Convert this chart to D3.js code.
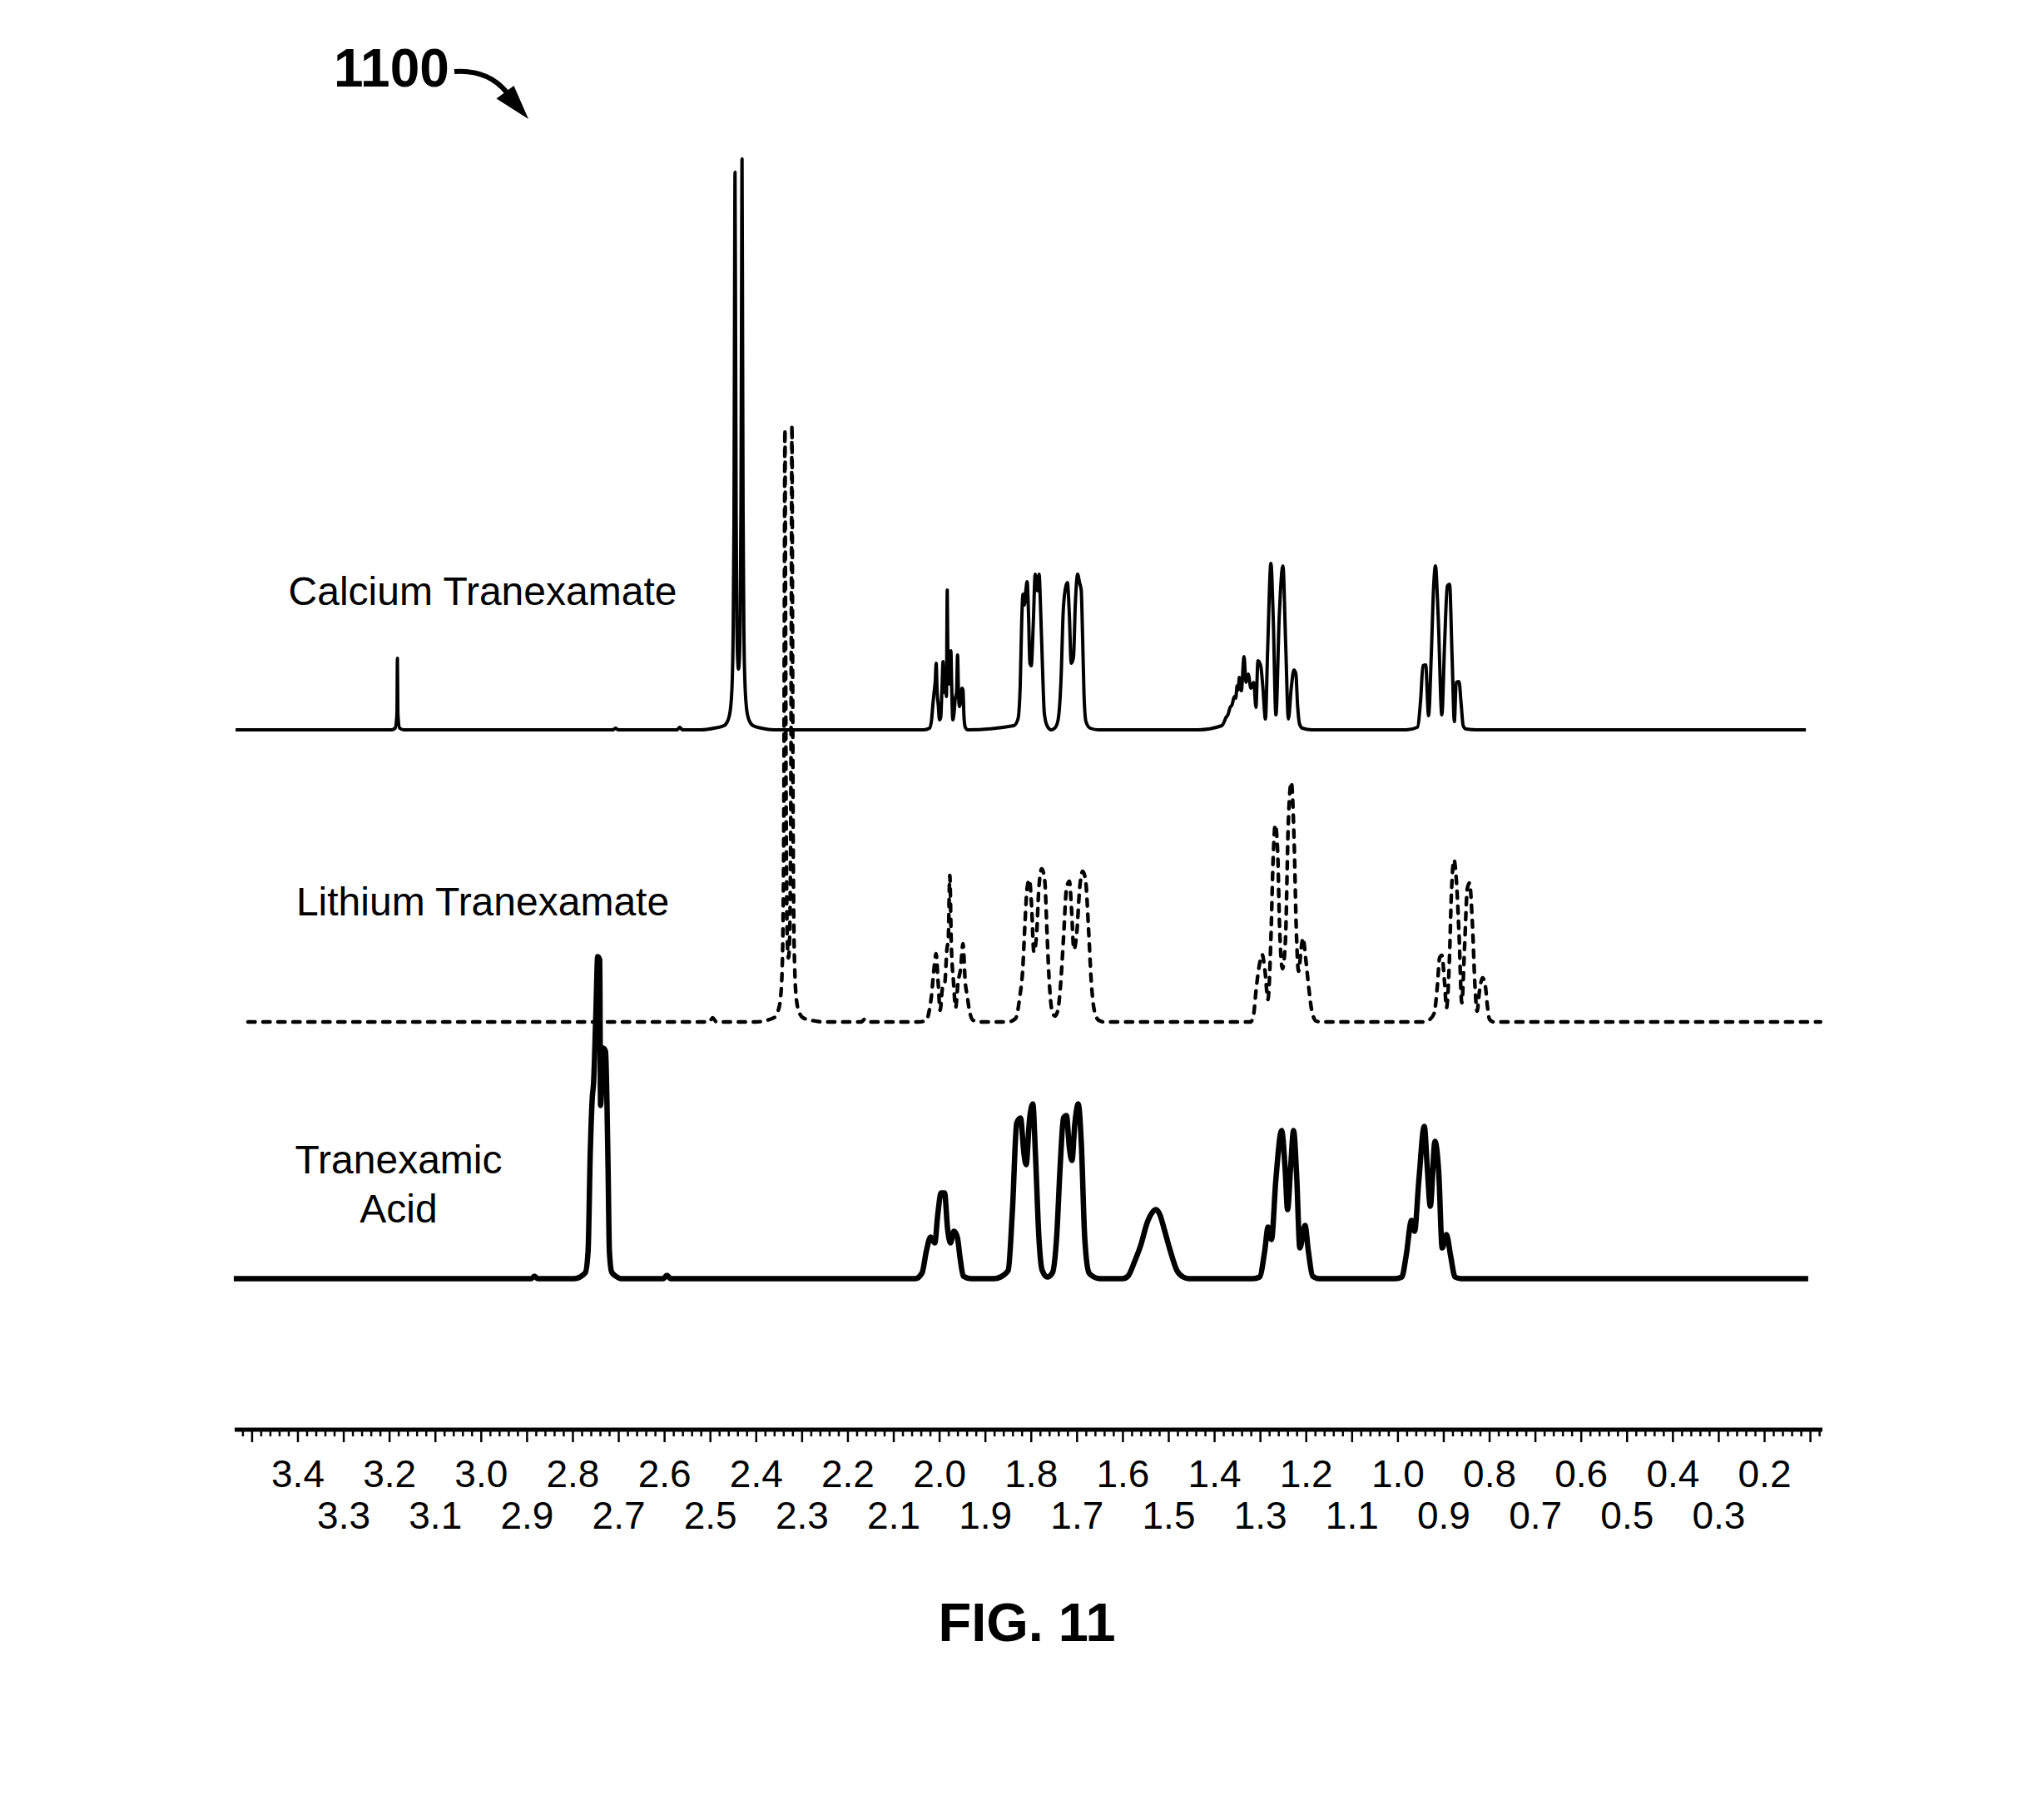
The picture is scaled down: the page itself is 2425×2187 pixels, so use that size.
<!DOCTYPE html>
<html>
<head>
<meta charset="utf-8">
<script src="https://cdn.jsdelivr.net/npm/d3@7"></script>
<style>
  html, body { margin: 0; padding: 0; background: #fff; }
  svg { display: block; }
  text { font-family: "Liberation Sans", Arial, sans-serif; fill: #000; }
</style>
</head>
<body>
<div id="chart"></div>
<script>
// ---------------- DATA ----------------
const figureNumber = "1100";
const figureCaption = "FIG. 11";
const seriesNames = ["Calcium Tranexamate", "Lithium Tranexamate", "Tranexamic Acid"];

// tick labels (ppm), two staggered rows
const upperRowLabels = [3.4, 3.2, 3.0, 2.8, 2.6, 2.4, 2.2, 2.0, 1.8, 1.6, 1.4, 1.2, 1.0, 0.8, 0.6, 0.4, 0.2];
const lowerRowLabels = [3.3, 3.1, 2.9, 2.7, 2.5, 2.3, 2.1, 1.9, 1.7, 1.5, 1.3, 1.1, 0.9, 0.7, 0.5, 0.3];
const axisExtent = [3.537, 0.073];

// spectra: [chemical shift (ppm), intensity (a.u.)]
const calciumSpectrum = [
  [3.535,0],[3.195,0],[3.187,2],[3.1830,20],[3.1820,86],[3.1810,20],[3.177,2],[3.168,0],
  [2.712,0],[2.706,2],[2.700,0],[2.572,0],[2.566,3],[2.560,0],
  [2.520,0],[2.4910,2],[2.4695,5],[2.4605,12],[2.4550,27],[2.4514,61],[2.4496,112],[2.4477,256],[2.4467,458],
  [2.4454,670],[2.4441,461],[2.4430,262],[2.4414,132],[2.4396,84],[2.4378,73],[2.4359,85],[2.4341,135],
  [2.4325,268],[2.4314,471],[2.4301,686],[2.4289,468],[2.4278,262],[2.4260,115],[2.4241,62],[2.4205,27],
  [2.4151,12],[2.4060,5],[2.3878,2],[2.3606,0],
  [2.0338,0],[2.0211,2],[2.0166,12],[2.0138,30],[2.0111,45],[2.0084,60],[2.0066,80],[2.0044,45],[2.0020,30],
  [1.9993,12],[1.9966,15],[1.9939,50],[1.9915,82],[1.9893,45],[1.9866,60],[1.9842,40],[1.9824,168],[1.9806,60],
  [1.9784,55],[1.9763,70],[1.9745,95],[1.9726,50],[1.9703,12],[1.9676,20],[1.9648,38],[1.9621,45],[1.9599,90],
  [1.9579,45],[1.9558,28],[1.9530,35],[1.9503,50],[1.9481,48],[1.9458,15],[1.9430,3],[1.9376,0],
  [1.8372,5],[1.8281,13],[1.8232,53],[1.8201,127],[1.8172,163],[1.8141,150],[1.8110,167],[1.8081,178],[1.8051,140],
  [1.8020,80],[1.7991,77],[1.7947,127],[1.7905,187],[1.7856,167],[1.7820,187],[1.7784,140],[1.7747,77],[1.7706,20],
  [1.7646,5],[1.7555,0],[1.7464,3],[1.7402,13],[1.7342,60],[1.7293,143],[1.7252,168],[1.7203,177],[1.7161,140],
  [1.7119,80],[1.7070,87],[1.7028,153],[1.6979,187],[1.6938,177],[1.6901,168],[1.6870,110],[1.6840,43],[1.6798,10],
  [1.6707,2],[1.6526,0],
  [1.4347,0],[1.3833,5],[1.3780,10],[1.3742,15],[1.3700,18],[1.3652,27],[1.3610,30],[1.3561,40],[1.3530,38],[1.3499,53],
  [1.3475,48],[1.3452,63],[1.3408,47],[1.3348,88],
  [1.3307,57],[1.3258,67],[1.3198,50],[1.3136,57],[1.3089,27],[1.3045,83],[1.2985,77],[1.2936,50],[1.2882,13],
  [1.2835,93],[1.2762,200],[1.2713,137],[1.2653,18],[1.2580,137],[1.2500,197],[1.2440,103],[1.2381,13],[1.2319,50],
  [1.2259,72],[1.2217,67],[1.2181,30],[1.2137,7],[1.2077,2],[1.1865,0],
  [0.9808,0],[0.9567,3],[0.9494,37],[0.9445,77],[0.9385,78],[0.9323,17],[0.9263,90],[0.9214,170],[0.9173,197],
  [0.9113,137],[0.9033,18],[0.8973,103],[0.8913,173],[0.8864,175],[0.8809,87],[0.8760,10],[0.8719,57],[0.8659,58],
  [0.8610,30],[0.8568,5],[0.8506,1],[0.8265,0],[0.109,0]
];

const lithiumSpectrum = [
  [3.508,0],[2.502,0],[2.494,5],[2.486,0],[2.400,0],
  [2.3606,5],[2.3516,13],[2.3461,29],[2.3425,65],[2.3407,119],[2.3388,272],[2.3378,487],[2.3365,712],[2.3352,490],
  [2.3341,278],[2.3325,140],[2.3307,89],[2.3289,77],[2.3270,89],[2.3252,141],[2.3236,280],[2.3225,492],[2.3212,717],
  [2.3200,489],[2.3189,274],[2.3171,120],[2.3152,65],[2.3116,28],[2.3062,13],[2.2971,5],[2.2789,2],[2.2517,0],
  [2.170,0],[2.163,3],[2.156,0],
  [2.045,0],[2.0278,2],[2.0215,14],[2.0169,31],[2.0118,61],[2.0068,82],[2.0022,47],[1.9979,14],[1.9928,41],[1.9877,47],
  [1.9832,87],[1.9801,100],[1.9768,176],[1.9737,97],[1.9686,47],[1.9641,17],[1.9590,47],[1.9532,64],[1.9481,94],
  [1.9430,47],[1.9387,31],[1.9341,14],[1.9260,2],[1.9100,0],
  [1.850,0],[1.8336,4],[1.8239,31],[1.8176,64],[1.8132,114],[1.8081,161],[1.8031,171],[1.7985,141],[1.7934,84],
  [1.7876,104],[1.7825,161],[1.7762,184],[1.7698,171],[1.7647,107],[1.7604,54],[1.7540,14],[1.7475,7],[1.7411,14],
  [1.7348,47],[1.7284,104],[1.7221,161],[1.7157,169],[1.7114,137],[1.7061,87],[1.6998,107],[1.6934,161],[1.6870,181],
  [1.6807,171],[1.6743,114],[1.6680,47],[1.6616,14],[1.6520,2],[1.640,0],
  [1.3208,0],[1.3145,7],[1.3081,41],[1.3018,67],[1.2954,81],[1.2891,61],[1.2827,27],[1.2764,97],[1.2713,197],
  [1.2667,237],[1.2617,207],[1.2573,114],[1.2510,64],[1.2446,97],[1.2382,240],[1.2317,288],[1.2254,214],[1.2210,114],
  [1.2159,61],[1.2096,91],[1.2063,101],[1.1999,74],[1.1936,41],[1.1872,14],[1.1776,1],[1.165,0],
  [0.945,0],[0.9323,2],[0.9203,10],[0.9131,43],[0.9082,77],[0.9033,80],[0.8973,47],[0.8931,17],[0.8869,73],
  [0.8822,157],[0.8768,195],[0.8719,173],[0.8659,107],[0.8597,23],[0.8537,90],[0.8477,160],[0.8428,167],[0.8368,120],
  [0.8307,40],[0.8265,13],[0.8205,40],[0.8143,53],[0.8083,43],[0.8041,20],[0.7992,3],[0.7902,0],[0.077,0]
];

const tranexamicSpectrum = [
  [3.539,0],[2.890,0],[2.883,3],[2.876,0],
  [2.7963,0],[2.7722,7],[2.7660,33],[2.7613,150],[2.7569,217],[2.7540,235],[2.7491,317],[2.7450,387],[2.7406,383],
  [2.7388,208],[2.7328,277],[2.7279,273],[2.7250,217],[2.7224,133],[2.7195,33],[2.7146,8],[2.7056,3],[2.6934,0],
  [2.602,0],[2.594,4],[2.586,0],
  [2.0520,0],[2.0373,7],[2.0280,33],[2.0188,50],[2.0095,43],[2.0031,77],[1.9957,103],[1.9882,103],[1.9817,60],
  [1.9754,43],[1.9679,57],[1.9605,50],[1.9539,23],[1.9474,3],[1.9309,0],
  [1.880,0],[1.8661,2],[1.8494,10],[1.8401,83],[1.8308,187],[1.8225,193],[1.8150,150],[1.8103,137],[1.8031,190],
  [1.7956,210],[1.7900,150],[1.7825,50],[1.7753,10],[1.7640,2],[1.7529,7],[1.7437,50],[1.7362,133],[1.7288,193],
  [1.7224,196],[1.7159,157],[1.7103,142],[1.7039,187],[1.6965,210],[1.6899,163],[1.6825,50],[1.6732,7],[1.6622,2],[1.650,0],
  [1.600,0],[1.5881,3],[1.5741,20],[1.5603,40],[1.5463,67],[1.5344,80],[1.5269,83],[1.5186,77],[1.5093,60],
  [1.4955,33],[1.4815,10],[1.4677,2],[1.455,0],
  [1.315,0],[1.3009,2],[1.2898,33],[1.2824,62],[1.2749,47],[1.2657,117],[1.2528,178],[1.2453,133],[1.2399,83],
  [1.2333,133],[1.2268,178],[1.2203,127],[1.2130,37],[1.2018,64],[1.1945,33],[1.1852,3],[1.1714,0],
  [1.005,0],[0.9906,2],[0.9813,27],[0.9694,70],[0.9628,57],[0.9536,117],[0.9416,183],[0.9350,133],[0.9285,87],
  [0.9183,165],[0.9100,127],[0.9025,37],[0.8933,53],[0.8840,27],[0.8746,2],[0.8610,0],[0.104,0]
];

// ---------------- LAYOUT ----------------
const W = 2425, H = 2187;
const svg = d3.select("#chart").append("svg")
  .attr("width", W).attr("height", H)
  .attr("viewBox", `0 0 ${W} ${H}`);
svg.append("rect").attr("width", W).attr("height", H).attr("fill", "#fff");

const x = d3.scaleLinear().domain([3.4, 0.2]).range([357.5, 2120]);

const traces = [
  { data: calciumSpectrum,    base: 877,    width: 4,   dash: null },
  { data: lithiumSpectrum,    base: 1228,   width: 4.4, dash: "8.5,9.5" },
  { data: tranexamicSpectrum, base: 1536.5, width: 6.5, dash: null }
];

traces.forEach(t => {
  const y = d3.scaleLinear().domain([0, 1000]).range([t.base, t.base - 1000]);
  const line = d3.line()
    .x(d => x(d[0]))
    .y(d => y(d[1]))
    .curve(d3.curveMonotoneX);
  const sorted = t.data.slice().sort((a, b) => b[0] - a[0]);
  const p = svg.append("path")
    .datum(sorted)
    .attr("d", line)
    .attr("fill", "none")
    .attr("stroke", "#000")
    .attr("stroke-width", t.width)
    .attr("stroke-linejoin", "round");
  if (t.dash) p.attr("stroke-dasharray", t.dash).attr("stroke-linecap", "round");
});

// ---------------- AXIS ----------------
const axisY = 1718;
const gAxis = svg.append("g").attr("transform", `translate(0,${axisY})`);

const minorTicks = d3.range(352, 7, -2).map(v => v / 100).filter(v => Math.round(v * 100) % 10 !== 0);
const majorTicks = d3.range(35, 0, -1).map(v => v / 10);

gAxis.append("g")
  .call(d3.axisBottom(x).tickValues(minorTicks).tickSize(8).tickSizeOuter(0).tickFormat(""))
  .call(g => g.select(".domain").remove())
  .call(g => g.selectAll("line").attr("stroke", "#000").attr("stroke-width", 2.5));

gAxis.append("g")
  .call(d3.axisBottom(x).tickValues(majorTicks).tickSize(15).tickSizeOuter(0).tickFormat(""))
  .call(g => g.select(".domain").remove())
  .call(g => g.selectAll("line").attr("stroke", "#000").attr("stroke-width", 2.5));

gAxis.append("line")
  .attr("x1", x(axisExtent[0])).attr("x2", x(axisExtent[1]))
  .attr("y1", 0).attr("y2", 0)
  .attr("stroke", "#000").attr("stroke-width", 5);

gAxis.append("g")
  .call(d3.axisBottom(x).tickValues(upperRowLabels).tickSize(0).tickPadding(36).tickFormat(d3.format(".1f")))
  .call(g => g.select(".domain").remove())
  .call(g => g.selectAll("text").attr("font-size", 46).attr("font-family", "Liberation Sans, Arial, sans-serif").attr("fill", "#000"));

gAxis.append("g")
  .call(d3.axisBottom(x).tickValues(lowerRowLabels).tickSize(0).tickPadding(86).tickFormat(d3.format(".1f")))
  .call(g => g.select(".domain").remove())
  .call(g => g.selectAll("text").attr("font-size", 46).attr("font-family", "Liberation Sans, Arial, sans-serif").attr("fill", "#000"));

// ---------------- LABELS ----------------
svg.append("text").attr("x", 580).attr("y", 727).attr("text-anchor", "middle")
  .attr("font-size", 48).text(seriesNames[0]);
svg.append("text").attr("x", 580).attr("y", 1100).attr("text-anchor", "middle")
  .attr("font-size", 48).text(seriesNames[1]);
const acidWords = seriesNames[2].split(" ");
svg.append("text").attr("x", 479).attr("y", 1410).attr("text-anchor", "middle")
  .attr("font-size", 48).text(acidWords[0]);
svg.append("text").attr("x", 479).attr("y", 1469).attr("text-anchor", "middle")
  .attr("font-size", 48).text(acidWords[1]);

// figure number with curved arrow
svg.append("text").attr("x", 401).attr("y", 104)
  .attr("font-size", 64).attr("font-weight", "bold").text(figureNumber);
svg.append("path")
  .attr("d", "M546,86 Q586,83 609,111")
  .attr("fill", "none").attr("stroke", "#000").attr("stroke-width", 6);
svg.append("path")
  .attr("d", "M596.5,118.5 L617.5,103 L635,143 Z")
  .attr("fill", "#000");

// caption
svg.append("text").attr("x", 1234).attr("y", 1972).attr("text-anchor", "middle")
  .attr("font-size", 65).attr("font-weight", "bold").text(figureCaption);
</script>
</body>
</html>
